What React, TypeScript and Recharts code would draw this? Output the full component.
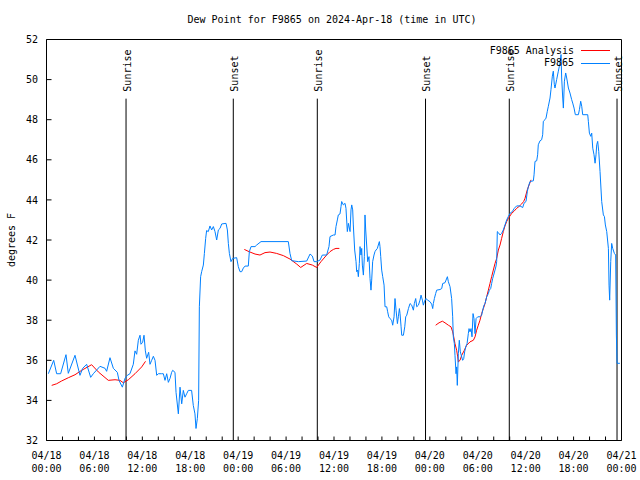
import { Line, LineChart, ReferenceLine, XAxis, YAxis } from "recharts";

// hours since 04/18 00:00 UTC
const blueHours = [
  0.23, 0.9, 1.27, 1.77, 2.44, 2.73, 3.57, 4.19, 4.53, 5.03, 5.53, 5.86, 6.7, 7.33, 7.53, 7.95, 8.37, 8.87, 9.08, 9.5,
  9.83, 10.12, 10.45, 10.87, 11.08, 11.29, 11.5, 11.71, 11.83, 12.04, 12.21, 12.38, 12.54, 12.79, 12.96, 13.17, 13.38,
  13.59, 13.8, 14.0, 14.42, 14.63, 14.84, 15.05, 15.26, 15.47, 15.67, 15.8, 16.09, 16.22, 16.51, 16.72, 16.93, 17.13,
  17.34, 17.55, 17.76, 18.17, 18.38, 18.59, 18.72, 18.89, 19.05, 19.14, 19.3, 19.43, 19.64, 19.77, 19.93, 20.05, 20.26,
  20.47, 20.68, 20.89, 21.1, 21.31, 21.52, 21.73, 21.94, 22.48, 22.65, 22.77, 22.9, 23.1, 23.31, 23.81, 24.02, 24.23,
  24.44, 24.65, 24.86, 25.27, 25.4, 25.61, 26.11, 26.32, 26.86, 30.28, 30.49, 30.7, 31.54, 32.58, 33.0, 33.29, 33.5,
  33.83, 34.25, 34.54, 35.08, 35.37, 35.5, 35.92, 36.13, 36.25, 36.42, 36.54, 36.75, 36.88, 36.96, 37.17, 37.38, 37.5,
  37.67, 37.8, 38.01, 38.13, 38.22, 38.34, 38.42, 38.59, 38.76, 38.84, 38.96, 39.05, 39.17, 39.26, 39.38, 39.47, 39.55,
  39.68, 39.8, 39.88, 39.97, 40.09, 40.22, 40.38, 40.51, 40.63, 40.72, 40.84, 41.01, 41.13, 41.26, 41.43, 41.55, 41.68,
  41.76, 41.85, 41.97, 42.1, 42.27, 42.39, 42.6, 42.72, 42.85, 43.01, 43.22, 43.35, 43.52, 43.64, 43.77, 43.94, 44.06,
  44.19, 44.27, 44.4, 44.48, 44.69, 44.86, 44.98, 45.11, 45.32, 45.52, 45.73, 45.94, 46.06, 46.23, 46.36, 46.57, 46.77,
  46.9, 47.07, 47.19, 47.32, 47.49, 47.74, 48.03, 48.23, 48.36, 48.44, 48.57, 48.73, 48.86, 49.28, 49.49, 49.61, 49.9,
  50.03, 50.2, 50.32, 50.53, 50.73, 50.86, 50.94, 51.07, 51.15, 51.28, 51.36, 51.44, 51.57, 51.69, 51.82, 51.99, 52.11,
  52.24, 52.36, 52.49, 52.66, 52.82, 52.91, 53.03, 53.16, 53.28, 53.41, 53.53, 53.66, 53.79, 54.0, 54.29, 54.49, 54.62,
  54.79, 54.91, 55.12, 55.33, 55.45, 55.62, 55.74, 55.87, 55.99, 56.16, 56.29, 56.37, 56.45, 56.58, 56.79, 56.99, 57.2,
  57.41, 57.62, 57.83, 58.04, 58.33, 58.58, 58.87, 59.29, 59.63, 59.79, 60.04, 60.21, 60.34, 60.55, 60.96, 61.05, 61.17,
  61.38, 61.5, 61.58, 61.8, 62.0, 62.13, 62.21, 62.42, 62.55, 62.71, 62.84, 63.05, 63.17, 63.34, 63.46, 63.59, 63.67,
  63.8, 63.88, 64.09, 64.22, 64.3, 64.43, 64.51, 64.64, 64.72, 64.85, 65.01, 65.14, 65.35, 65.55, 65.76, 65.89, 66.06,
  66.22, 66.6, 66.73, 66.89, 67.02, 67.14, 67.77, 67.85, 67.98, 68.15, 68.27, 68.4, 68.56, 68.69, 68.81, 68.9, 69.02,
  69.15, 69.31, 69.52, 69.73, 69.86, 69.98, 70.15, 70.36, 70.44, 70.52, 70.65, 70.77, 70.9, 71.11, 71.27, 71.36, 71.45,
  71.8,
];

const blueValues = [
  35.33, 36.0, 35.33, 35.33, 36.28, 35.35, 36.25, 35.25, 35.6, 35.8, 35.15, 35.33, 35.7, 35.6, 35.45, 36.13, 35.6, 35.4,
  35.0, 34.66, 35.1, 35.25, 35.33, 35.8, 36.47, 36.3, 37.0, 37.25, 36.8, 36.9, 37.25, 36.47, 36.1, 36.4, 35.8, 36.0,
  36.2, 36.0, 35.25, 35.33, 35.33, 35.33, 35.0, 35.33, 34.9, 35.1, 35.4, 35.5, 35.4, 34.4, 33.33, 34.66, 33.83, 34.5,
  34.16, 34.33, 34.5, 34.5, 33.75, 33.33, 32.6, 33.1, 34.0, 38.67, 40.17, 40.42, 40.75, 41.33, 42.08, 42.47, 42.42,
  42.7, 42.5, 42.67, 42.42, 42.0, 42.5, 42.58, 42.8, 42.83, 42.5, 41.83, 41.33, 40.92, 41.08, 41.12, 40.67, 40.42,
  40.42, 40.6, 40.7, 40.7, 41.42, 41.67, 41.67, 41.75, 41.92, 41.92, 41.33, 40.97, 40.92, 40.95, 41.3, 41.2, 40.92,
  40.92, 41.0, 41.25, 41.25, 41.67, 42.17, 42.25, 42.25, 42.67, 43.0, 43.25, 43.3, 43.67, 43.92, 43.75, 43.83, 43.58,
  42.42, 42.83, 42.42, 43.5, 43.75, 43.5, 42.75, 41.5, 40.92, 40.42, 40.5, 40.17, 40.83, 41.67, 41.25, 41.58, 40.75,
  40.25, 41.17, 43.25, 42.5, 41.75, 40.92, 41.17, 40.08, 39.5, 40.0, 40.92, 41.25, 41.42, 41.5, 41.58, 41.75, 41.92,
  41.67, 41.17, 40.5, 40.17, 39.75, 38.67, 38.67, 38.42, 38.17, 38.08, 38.0, 37.75, 38.17, 39.08, 38.5, 37.83, 38.17,
  38.58, 38.33, 37.67, 37.25, 37.25, 37.67, 38.17, 38.25, 38.58, 38.83, 38.75, 38.5, 38.83, 39.08, 38.67, 38.75, 39.0,
  39.25, 39.0, 38.75, 38.92, 39.08, 39.0, 38.92, 38.8, 38.58, 38.83, 39.08, 39.33, 39.5, 39.53, 39.58, 39.83, 39.87,
  40.0, 40.17, 39.92, 39.67, 39.08, 38.17, 37.17, 36.83, 36.25, 35.33, 35.67, 34.75, 36.33, 37.0, 36.42, 36.17, 36.0,
  36.08, 36.42, 36.67, 36.83, 37.33, 37.58, 37.42, 37.58, 37.17, 38.33, 38.08, 37.33, 38.08, 38.17, 38.17, 38.25, 38.5,
  38.75, 38.83, 39.17, 39.33, 39.5, 39.58, 39.83, 40.08, 40.25, 40.5, 40.7, 40.92, 42.42, 42.37, 42.25, 42.33, 42.5,
  42.75, 43.0, 43.17, 43.33, 43.42, 43.58, 43.7, 43.7, 43.62, 43.83, 43.92, 44.42, 44.67, 44.92, 44.95, 45.25, 45.92,
  45.95, 46.25, 46.75, 46.95, 47.0, 47.25, 47.92, 48.0, 48.08, 48.42, 48.67, 49.08, 49.5, 50.17, 50.42, 49.75, 49.58,
  49.83, 50.0, 50.42, 50.67, 50.83, 51.25, 50.08, 49.08, 48.58, 49.92, 50.33, 50.08, 49.58, 49.33, 49.0, 48.83, 48.58,
  48.25, 48.25, 48.5, 48.92, 48.67, 48.25, 48.25, 47.92, 47.33, 47.17, 47.33, 46.58, 46.25, 45.83, 46.25, 46.75, 46.92,
  46.42, 45.42, 43.92, 43.25, 43.17, 42.75, 42.42, 41.58, 39.75, 39.0, 40.92, 41.83, 41.58, 41.33, 41.25, 37.25, 35.85,
  35.85,
];

// analysis series, null breaks the line between runs
const redHours = [
  0.65, 1.27, 1.9, 2.73, 3.57, 4.4, 5.65, 6.49, 7.74, 8.58, 9.2, 9.62, 10.25, 11.08, 11.92, 12.4, 18,
  24.77, 25.36, 26.11, 26.73, 27.36, 27.99, 28.82, 29.66, 30.49, 31.33, 31.83, 32.58, 33.29, 33.83, 34.37, 35.08, 35.5,
  35.92, 36.25, 36.67, 42,
  48.73, 49.15, 49.57, 49.9, 50.32, 50.65, 50.86, 50.99, 51.15, 51.36, 51.49, 51.57, 51.78, 51.99, 52.32, 52.61, 53.03,
  53.45, 53.66, 53.86, 54.07, 54.28, 54.49, 54.7, 54.91, 55.12, 55.33, 55.53, 55.74, 55.95, 56.16, 56.37, 56.58, 56.79,
  56.99, 57.2, 57.41, 57.62, 57.83, 58.04, 58.25, 58.58, 58.87, 59.17, 59.5, 59.75, 59.92, 60.2, 60.67,
];

const redValues = [
  34.75, 34.83, 34.97, 35.13, 35.28, 35.5, 35.78, 35.42, 35.0, 35.03, 35.0, 34.88, 35.03, 35.33, 35.67, 35.95, null,
  41.53, 41.42, 41.3, 41.25, 41.37, 41.4, 41.33, 41.22, 41.05, 40.8, 40.63, 40.83, 40.75, 40.63, 40.92, 41.25, 41.42,
  41.53, 41.58, 41.58, null,
  37.75, 37.87, 37.95, 37.87, 37.75, 37.67, 37.42, 37.17, 36.83, 36.5, 36.17, 35.92, 36.0, 36.25, 36.5, 36.75, 36.92,
  37.0, 37.17, 37.5, 37.75, 38.0, 38.33, 38.58, 38.83, 39.17, 39.5, 39.83, 40.17, 40.5, 40.83, 41.08, 41.5, 41.75,
  42.08, 42.42, 42.7, 42.92, 43.08, 43.2, 43.33, 43.45, 43.58, 43.67, 43.8, 43.92, 44.08, 44.5, 45.0,
];

const sunHours = [9.96, 23.39, 33.91, 47.46, 57.95, 71.44];
const sunLabels = ["Sunrise", "Sunset", "Sunrise", "Sunset", "Sunrise", "Sunset"];

const minorTicks = Array.from({ length: 37 }, (_, i) => i * 2);
const labelHours = [0, 6, 12, 18, 24, 30, 36, 42, 48, 54, 60, 66, 72];
const labelDates = ["04/18", "04/18", "04/18", "04/18", "04/19", "04/19", "04/19", "04/19", "04/20", "04/20", "04/20", "04/20", "04/21"];
const labelTimes = ["00:00", "06:00", "12:00", "18:00", "00:00", "06:00", "12:00", "18:00", "00:00", "06:00", "12:00", "18:00", "00:00"];
const yTicks = [32, 34, 36, 38, 40, 42, 44, 46, 48, 50, 52];

const series = [
  { name: "F9865 Analysis", color: "#ff0000" },
  { name: "F9865", color: "#0080ff" },
];

const FONT = "'DejaVu Sans Mono', monospace";

const blueData = blueHours.map((h, i) => ({ h, v: blueValues[i] }));
const redData = redHours.map((h, i) => ({ h, v: redValues[i] }));

function BottomTick(props: any) {
  const { x, y, payload } = props;
  const idx = labelHours.indexOf(payload.value);
  return (
    <g>
      <line x1={x} x2={x} y1={y} y2={y - 4} stroke="#000" />
      {idx >= 0 && (
        <text x={x} y={y + 18} textAnchor="middle" fontFamily={FONT} fontSize={10} fill="#000">
          <tspan x={x}>{labelDates[idx]}</tspan>
          <tspan x={x} dy={13.4}>{labelTimes[idx]}</tspan>
        </text>
      )}
    </g>
  );
}

function TopTick(props: any) {
  const { x, y } = props;
  return <line x1={x} x2={x} y1={y} y2={y + 4} stroke="#000" />;
}

function LeftTick(props: any) {
  const { x, y, payload } = props;
  return (
    <g>
      <line x1={x} x2={x + 5} y1={y} y2={y} stroke="#000" />
      <text x={x - 8.5} y={y + 3.6} textAnchor="end" fontFamily={FONT} fontSize={10} fill="#000">
        {payload.value}
      </text>
    </g>
  );
}

function RightTick(props: any) {
  const { x, y } = props;
  return <line x1={x} x2={x - 5} y1={y} y2={y} stroke="#000" />;
}

function SunLabel(props: any) {
  const { viewBox, text } = props;
  const tx = viewBox.x + 4.5;
  const ty = viewBox.y - 7;
  return (
    <text x={tx} y={ty} transform={`rotate(-90 ${tx} ${ty})`} textAnchor="start" fontFamily={FONT} fontSize={10} fill="#000">
      {text}
    </text>
  );
}

export default function App() {
  return (
    <div style={{ position: "absolute", left: 0, top: 0, width: 640, height: 480, background: "#fff", fontFamily: FONT }}>
      <div style={{ position: "absolute", left: 0, top: 13, width: 664, textAlign: "center", fontSize: 10, lineHeight: "14px" }}>
        Dew Point for F9865 on 2024-Apr-18 (time in UTC)
      </div>
      <div
        style={{
          position: "absolute",
          left: 12,
          top: 240,
          transform: "translate(-50%, -50%) rotate(-90deg)",
          fontSize: 10,
          lineHeight: "14px",
          whiteSpace: "nowrap",
        }}
      >
        degrees F
      </div>
      <LineChart width={640} height={480} margin={{ top: 38.5, right: 17.5, bottom: 0, left: 0.5 }}>
        <XAxis
          xAxisId="b"
          dataKey="h"
          type="number"
          domain={[0, 72]}
          ticks={minorTicks}
          interval={0}
          height={39.5}
          tickSize={0}
          tickMargin={0}
          tickLine={false}
          axisLine={{ stroke: "#000" }}
          tick={<BottomTick />}
        />
        <XAxis
          xAxisId="t"
          orientation="top"
          dataKey="h"
          type="number"
          domain={[0, 72]}
          ticks={minorTicks}
          interval={0}
          height={1}
          tickSize={0}
          tickMargin={0}
          tickLine={false}
          axisLine={{ stroke: "#000" }}
          tick={<TopTick />}
        />
        <YAxis
          yAxisId="l"
          type="number"
          domain={[32, 52]}
          ticks={yTicks}
          interval={0}
          width={46}
          tickSize={0}
          tickMargin={0}
          tickLine={false}
          axisLine={{ stroke: "#000" }}
          tick={<LeftTick />}
        />
        <YAxis
          yAxisId="r"
          orientation="right"
          type="number"
          domain={[32, 52]}
          ticks={yTicks}
          interval={0}
          width={1}
          tickSize={0}
          tickMargin={0}
          tickLine={false}
          axisLine={{ stroke: "#000" }}
          tick={<RightTick />}
        />
        {sunHours.map((h, i) => (
          <ReferenceLine
            key={i}
            xAxisId="b"
            yAxisId="l"
            segment={[
              { x: h, y: 32 },
              { x: h, y: 49.05 },
            ]}
            stroke="#000"
            label={<SunLabel text={sunLabels[i]} />}
          />
        ))}
        <Line
          data={redData}
          dataKey="v"
          xAxisId="b"
          yAxisId="l"
          stroke={series[0].color}
          strokeWidth={1}
          dot={false}
          type="linear"
          isAnimationActive={false}
        />
        <Line
          data={blueData}
          dataKey="v"
          xAxisId="b"
          yAxisId="l"
          stroke={series[1].color}
          strokeWidth={1}
          dot={false}
          type="linear"
          isAnimationActive={false}
        />
      </LineChart>
      {series.map((s, i) => (
        <div key={s.name}>
          <div
            style={{
              position: "absolute",
              right: 66,
              top: 43.7 + i * 12.3,
              fontSize: 10,
              lineHeight: "14px",
              whiteSpace: "nowrap",
            }}
          >
            {s.name}
          </div>
          <div
            style={{
              position: "absolute",
              left: 581,
              top: 49.5 + i * 13.5,
              width: 29,
              height: 0,
              borderTop: `1px solid ${s.color}`,
            }}
          />
        </div>
      ))}
    </div>
  );
}
